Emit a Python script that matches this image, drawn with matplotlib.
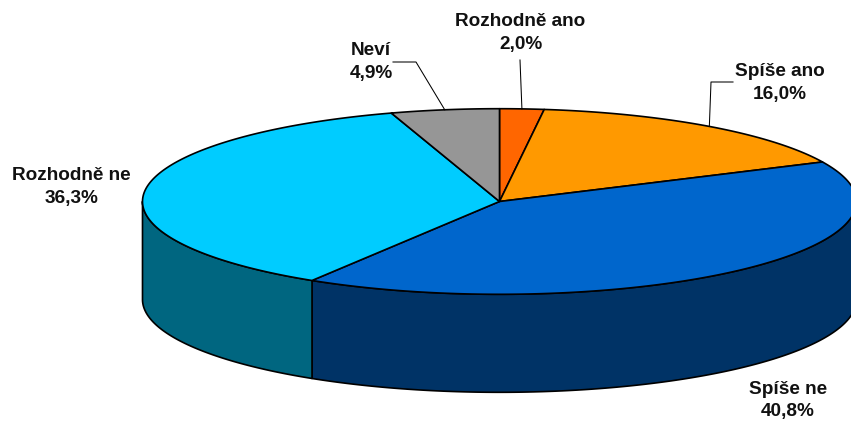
"""
3D look pie: answers in percent, drawn as an ellipse with a front wall.
"""
import numpy as np
import matplotlib
matplotlib.use("Agg")
import matplotlib.pyplot as plt
from matplotlib.patches import Polygon

# ── Data ───────────────────────────────────────────────────────────────────
categories = ["Rozhodně ano", "Spíše ano", "Spíše ne", "Rozhodně ne", "Neví"]
values = [2.0, 16.0, 40.8, 36.3, 4.9]

top_colors = ["#FF6600", "#FF9900", "#0066CC", "#00CCFF", "#969696"]
side_colors = ["#803300", "#804D00", "#003366", "#006680", "#4B4B4B"]

# ── Geometry (pixels) ──────────────────────────────────────────────────────
CX, CY = 499.5, 201.5
RX, RY = 357.0, 92.8
DEPTH = 98.0
LW = 1.2

plt.rcParams["font.family"] = ["Liberation Sans", "DejaVu Sans"]

fig = plt.figure(figsize=(8.51, 4.21), dpi=100, facecolor="white")
ax = fig.add_axes([0, 0, 1, 1])
ax.set_xlim(0, 851)
ax.set_ylim(421, 0)
ax.axis("off")


def rim(a0, a1, dy=0.0):
    # angles in degrees, clockwise from the top
    t = np.radians(np.linspace(a0, a1, max(int(abs(a1 - a0) * 4), 2)))
    return np.column_stack([CX + RX * np.sin(t), CY + dy - RY * np.cos(t)])


edges = np.concatenate([[0], np.cumsum(values)]) * 3.6

# Front wall first, only the part from 90 to 270 degrees shows
for i in range(len(values)):
    a0, a1 = max(edges[i], 90), min(edges[i + 1], 270)
    if a1 <= a0:
        continue
    pts = np.vstack([rim(a0, a1), rim(a0, a1, DEPTH)[::-1]])
    ax.add_patch(Polygon(pts, closed=True, facecolor=side_colors[i],
                         edgecolor="black", linewidth=LW, joinstyle="round"))

# Top faces
for i in range(len(values)):
    pts = np.vstack([[CX, CY], rim(edges[i], edges[i + 1])])
    ax.add_patch(Polygon(pts, closed=True, facecolor=top_colors[i],
                         edgecolor="black", linewidth=LW, joinstyle="round"))

# ── Labels ─────────────────────────────────────────────────────────────────
label_pos = [(520.5, 33), (780, 83), (788, 400.5), (71.5, 187), (371, 62)]
# elbow points of the leader lines, None means no leader
leaders = [[(520, 60)], [(733, 82), (711, 82)], None, None, [(393, 62), (416, 62)]]

for i, name in enumerate(categories):
    x, y = label_pos[i]
    ax.text(x, y, f"{name}\n{values[i]:.1f}%".replace(".", ","), ha="center",
            va="center", fontsize=13.7, fontweight="bold", color="#111111",
            linespacing=1.42)
    if leaders[i] is not None:
        mid = np.radians((edges[i] + edges[i + 1]) / 2)
        end = (CX + RX * np.sin(mid), CY - RY * np.cos(mid))
        line = leaders[i] + [end]
        ax.plot([p[0] for p in line], [p[1] for p in line],
                color="black", linewidth=0.75)

fig.savefig("out.png", dpi=100, facecolor="white")
